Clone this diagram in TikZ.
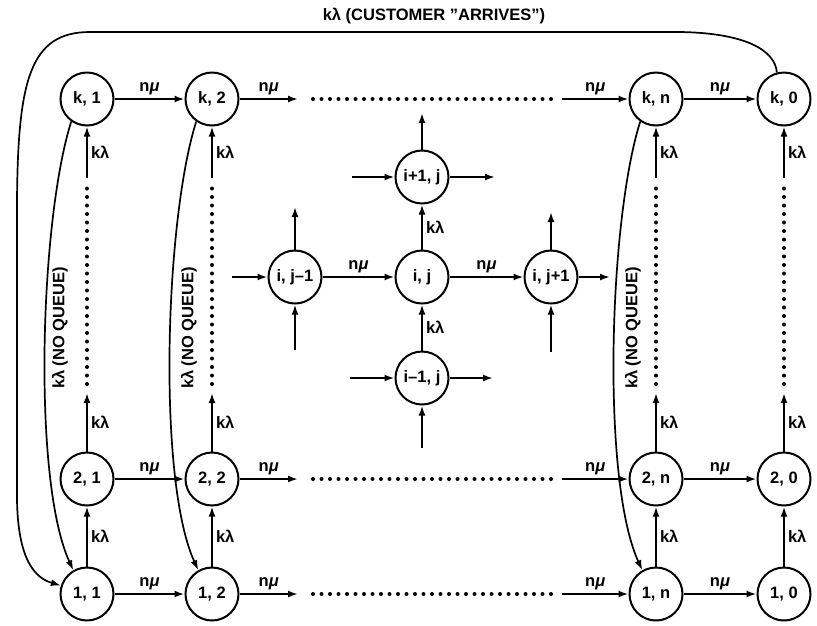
\documentclass[tikz,border=0pt]{standalone}
\usepackage{fontspec}
\setmainfont{Liberation Sans}
\usetikzlibrary{arrows.meta,positioning}

\begin{document}
\begin{tikzpicture}[x=1pt, y=-1pt,
    every node/.style={font=\fontsize{16.5}{19}\selectfont\bfseries},
    state/.style={circle, draw, line width=2pt, minimum size=53pt, inner sep=0pt},
    arr/.style={-{Latex[length=10pt,width=7pt]}, line width=2pt},
    dots/.style={line width=4pt, line cap=round, dash pattern=on 0pt off 8.5pt},
    lbl/.style={inner sep=3pt},
]
\useasboundingbox (0,0) rectangle (817,625);

% Columns of the grid
\foreach \c/\x in {1/87, 2/212, n/656, 0/784} {
    \node[state] (sk\c) at (\x,99) {k, \c};
    \node[state] (s2\c) at (\x,479) {2, \c};
    \node[state] (s1\c) at (\x,594) {1, \c};
    \coordinate (up\c) at (\x,393);
    \coordinate (dt\c) at (\x,384);
    \coordinate (db\c) at (\x,186);
    \coordinate (top\c) at (\x,178);
    \draw[arr] (s1\c) -- node[lbl, right] {kλ} (s2\c);
    \draw[arr] (s2\c) -- node[lbl, right] {kλ} (up\c);
    \draw[dots] (dt\c) -- (db\c);
    \draw[arr] (top\c) -- node[lbl, right] {kλ} (sk\c);
}

% Rows of the grid
\foreach \r/\y in {k/99, 2/479, 1/594} {
    \coordinate (out\r) at (298,\y);
    \coordinate (dl\r) at (313,\y);
    \coordinate (dr\r) at (552,\y);
    \coordinate (in\r) at (562,\y);
    \draw[arr] (s\r1) -- node[lbl, above] {n\textit{μ}} (s\r2);
    \draw[arr] (s\r2) -- node[lbl, above] {n\textit{μ}} (out\r);
    \draw[dots] (dl\r) -- (dr\r);
    \draw[arr] (in\r) -- node[lbl, above] {n\textit{μ}} (s\r n);
    \draw[arr] (s\r n) -- node[lbl, above] {n\textit{μ}} (s\r0);
}

% Returns with no queue
\draw[arr, line width=1.7pt] (sk1.235) .. controls (40,220) and (32,480) .. (s11.120);
\draw[arr, line width=1.7pt] (sk2.235) .. controls (165,220) and (157,480) .. (s12.120);
\draw[arr, line width=1.7pt] (skn.235) .. controls (609,220) and (601,480) .. (s1n.120);
\node[rotate=90] (nq1) at (60,328) {kλ (NO QUEUE)};
\node[rotate=90] (nq2) at (189,328) {kλ (NO QUEUE)};
\node[rotate=90] (nqn) at (633,328) {kλ (NO QUEUE)};

% Customer arrives
\draw[arr, line width=1.7pt] (sk0.105) .. controls (775,50) and (745,33) .. (680,32)
    -- (90,32) .. controls (30,32) and (18,80) .. (17,200) -- (17,500)
    .. controls (18,560) and (35,578) .. (s11.162);
\node (arrives) at (434,16) {kλ (CUSTOMER ''ARRIVES'')};

% General state (i, j)
\node[state] (ijm) at (295,277) {i, j--1};
\node[state] (ij) at (422,277) {i, j};
\node[state] (ijp) at (551,277) {i, j+1};
\node[state] (ipj) at (422,177) {i+1, j};
\node[state] (imj) at (422,378) {i--1, j};

\coordinate (ijm-w) at (232,277);
\coordinate (ijm-n) at (295,207);
\coordinate (ijm-s) at (295,350);
\coordinate (ijp-n) at (551,212);
\coordinate (ijp-s) at (551,352);
\coordinate (ijp-e) at (610,277);
\coordinate (ipj-w) at (352,177);
\coordinate (ipj-e) at (495,177);
\coordinate (ipj-n) at (422,113);
\coordinate (imj-w) at (350,378);
\coordinate (imj-e) at (493,378);
\coordinate (imj-s) at (422,448);

\draw[arr] (ijm-w) -- (ijm);
\draw[arr] (ijm) -- (ijm-n);
\draw[arr] (ijm-s) -- (ijm);
\draw[arr] (ijm) -- node[lbl, above] {n\textit{μ}} (ij);
\draw[arr] (ij) -- node[lbl, above] {n\textit{μ}} (ijp);
\draw[arr] (imj) -- node[lbl, right] {kλ} (ij);
\draw[arr] (ij) -- node[lbl, right] {kλ} (ipj);
\draw[arr] (ijp) -- (ijp-n);
\draw[arr] (ijp-s) -- (ijp);
\draw[arr] (ijp) -- (ijp-e);
\draw[arr] (ipj-w) -- (ipj);
\draw[arr] (ipj) -- (ipj-e);
\draw[arr] (ipj) -- (ipj-n);
\draw[arr] (imj-w) -- (imj);
\draw[arr] (imj) -- (imj-e);
\draw[arr] (imj-s) -- (imj);
\end{tikzpicture}
\end{document}
